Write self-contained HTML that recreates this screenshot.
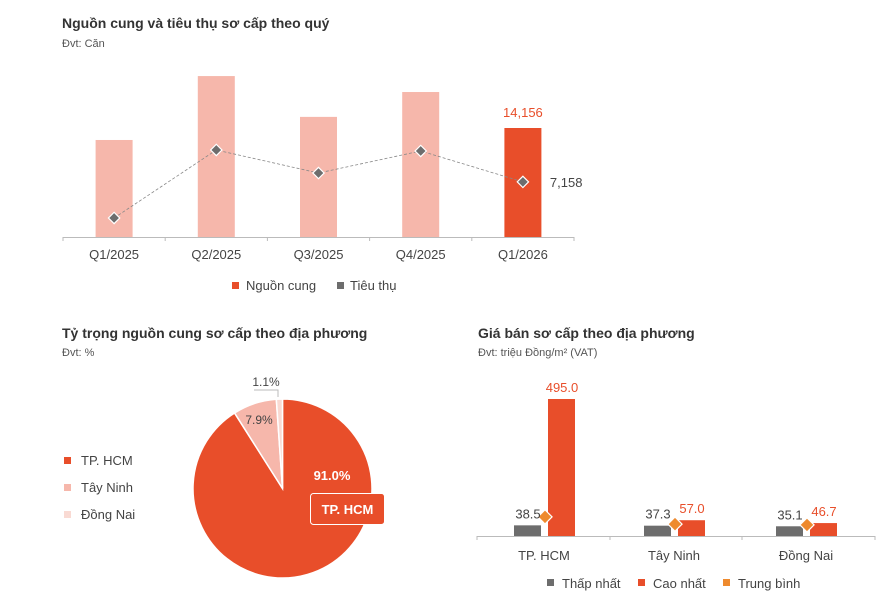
<!DOCTYPE html>
<html><head><meta charset="utf-8"><style>
body{margin:0;background:#fff;width:888px;height:603px;overflow:hidden;font-family:"Liberation Sans",sans-serif;}
svg{position:absolute;left:0;top:0}
</style></head><body>
<svg width="888" height="603" id="svg" font-family="Liberation Sans, sans-serif">
<text x="62" y="28" font-size="14" font-weight="bold" fill="#333">Nguồn cung và tiêu thụ sơ cấp theo quý</text>
<text x="62" y="47" font-size="11" fill="#555">Đvt: Căn</text>
<g id="c1"></g>
<text x="62" y="338" font-size="14" font-weight="bold" fill="#333">Tỷ trọng nguồn cung sơ cấp theo địa phương</text>
<text x="62" y="356" font-size="11" fill="#555">Đvt: %</text>
<g id="c2"></g>
<text x="478" y="338" font-size="14" font-weight="bold" fill="#333">Giá bán sơ cấp theo địa phương</text>
<text x="478" y="356" font-size="11" fill="#555">Đvt: triệu Đồng/m² (VAT)</text>
<g id="c3"></g>
</svg>
<script>
const quarters=["Q1/2025","Q2/2025","Q3/2025","Q4/2025","Q1/2026"];
const supply=[12600,20900,15600,18830,14156];
const sales=[2470,11300,8310,11170,7158];
const regions=["TP. HCM","Tây Ninh","Đồng Nai"];
const share=[91.0,7.9,1.1];
const shareLabels=["91.0%","7.9%","1.1%"];
const minPrice=[38.5,37.3,35.1];
const maxPrice=[495.0,57.0,46.7];
const avgPrice=[69,43,40];
const RED="#E84E2A",PINK="#F6B7AB",LIGHT="#F9DAD3",GRAY="#6d6d6d",ORANGE="#EE8A2E";
const NS="http://www.w3.org/2000/svg";
function mk(parent,tag,attrs,text){const e=document.createElementNS(NS,tag);for(const k in attrs)e.setAttribute(k,attrs[k]);if(text!==undefined)e.textContent=text;parent.appendChild(e);return e;}
// chart 1
const c1=document.getElementById('c1');
const base1=237,x0=63,cw=102.2,sc1=109/14156;
const y1=v=>base1-v*sc1, cx1=i=>x0+cw*(i+0.5);
quarters.forEach((q,i)=>{
  const last=i===quarters.length-1;
  const b=mk(c1,'rect',{x:cx1(i)-18.5,y:y1(supply[i]),width:37,height:supply[i]*sc1,fill:last?RED:PINK});
  
  
  const t=mk(c1,'text',{x:cx1(i),y:259,'font-size':13,fill:'#444','text-anchor':'middle'},q);
  
  
});
mk(c1,'line',{x1:x0,y1:237.5,x2:x0+cw*5,y2:237.5,stroke:'#bbb'});
for(let i=0;i<=5;i++)mk(c1,'line',{x1:x0+cw*i,y1:237,x2:x0+cw*i,y2:241,stroke:'#bbb'});
mk(c1,'polyline',{points:sales.map((v,i)=>cx1(i)+','+y1(v)).join(' '),fill:'none',stroke:'#888','stroke-dasharray':'3,2','stroke-width':0.8});
sales.forEach((v,i)=>{
  const d=mk(c1,'rect',{x:cx1(i)-4,y:y1(v)-4,width:8,height:8,fill:GRAY,stroke:'#fff','stroke-width':1.2,transform:`rotate(45 ${cx1(i)} ${y1(v)})`});
  
  
});
const L=quarters.length-1;
const sl=mk(c1,'text',{x:cx1(L),y:y1(supply[L])-11,'font-size':13,fill:RED,'text-anchor':'middle'},supply[L].toLocaleString('en-US'));


const tl=mk(c1,'text',{x:cx1(L)+27,y:y1(sales[L])+5,'font-size':13,fill:'#444'},sales[L].toLocaleString('en-US'));


const lg1=mk(c1,'g',{});


mk(lg1,'rect',{x:232,y:282,width:7,height:7,fill:RED});
mk(lg1,'text',{x:246,y:290,'font-size':13,fill:'#444'},'Nguồn cung');
mk(lg1,'rect',{x:337,y:282,width:7,height:7,fill:GRAY});
mk(lg1,'text',{x:350,y:290,'font-size':13,fill:'#444'},'Tiêu thụ');
// chart 2 pie
const c2=document.getElementById('c2');
const pcx=282.5,pcy=488.5,r=89.5,cols=[RED,PINK,LIGHT];
let a=0;const tot=share.reduce((s,v)=>s+v,0);
share.forEach((v,i)=>{
  const a0=a,a1=a+v/tot*2*Math.PI;a=a1;
  const p=t=>[pcx+r*Math.sin(t),pcy-r*Math.cos(t)];
  const [sx,sy]=p(a0),[ex,ey]=p(a1);
  const s=mk(c2,'path',{d:`M${pcx},${pcy}L${sx},${sy}A${r},${r} 0 ${a1-a0>Math.PI?1:0} 1 ${ex},${ey}Z`,fill:cols[i],stroke:'#fff','stroke-width':1.5});
  
  
});
const pl0=mk(c2,'text',{x:332,y:480,'font-size':13,'font-weight':'bold',fill:'#fff','text-anchor':'middle'},shareLabels[0]);


const cb=mk(c2,'g',{});


mk(cb,'rect',{x:310.5,y:493.5,width:74,height:31,rx:3,fill:RED,stroke:'#fff','stroke-width':1});
mk(cb,'text',{x:347.5,y:514,'font-size':13,'font-weight':'bold',fill:'#fff','text-anchor':'middle'},'TP. HCM');
const pl1=mk(c2,'text',{x:259,y:424,'font-size':12,fill:'#444','text-anchor':'middle'},shareLabels[1]);


mk(c2,'polyline',{points:'254,390 278,390 278,397',fill:'none',stroke:'#bbb'});
const pl2=mk(c2,'text',{x:266,y:386,'font-size':12,fill:'#444','text-anchor':'middle'},shareLabels[2]);


regions.forEach((n,i)=>{
  const g=mk(c2,'g',{});
  
  
  mk(g,'rect',{x:64,y:457+i*27,width:7,height:7,fill:cols[i]});
  mk(g,'text',{x:81,y:465+i*27,'font-size':13,fill:'#444'},n);
});
// chart 3
const c3=document.getElementById('c3');
const base3=536,sc3=137/495,gx=[547,677,809];
const y3=v=>base3-v*sc3;
mk(c3,'line',{x1:477,y1:536.5,x2:875,y2:536.5,stroke:'#bbb'});
[477,610,742,875].forEach(x=>mk(c3,'line',{x1:x,y1:536,x2:x,y2:540,stroke:'#bbb'}));
regions.forEach((n,i)=>{
  const g=mk(c3,'rect',{x:gx[i]-33,y:y3(minPrice[i]),width:27,height:minPrice[i]*sc3,fill:GRAY});
  
  
  const rr=mk(c3,'rect',{x:gx[i]+1,y:y3(maxPrice[i]),width:27,height:maxPrice[i]*sc3,fill:RED});
  
  
  const ay=y3(avgPrice[i]),ax=gx[i]-2;
  const d=mk(c3,'rect',{x:ax-5,y:ay-5,width:10,height:10,fill:ORANGE,stroke:'#fff','stroke-width':1.2,transform:`rotate(45 ${ax} ${ay})`});
  
  
  const t1=mk(c3,'text',{x:gx[i]-19,y:y3(minPrice[i])-7,'font-size':13,fill:'#444','text-anchor':'middle'},minPrice[i].toFixed(1));
  
  
  const t2=mk(c3,'text',{x:gx[i]+15,y:y3(maxPrice[i])-7,'font-size':13,fill:RED,'text-anchor':'middle'},maxPrice[i].toFixed(1));
  
  
  const xl=mk(c3,'text',{x:gx[i]-3,y:560,'font-size':13,fill:'#444','text-anchor':'middle'},n);
  
  
});
const lg3=mk(c3,'g',{});


[["Thấp nhất",GRAY,547],["Cao nhất",RED,638],["Trung bình",ORANGE,723]].forEach(([t,c,x])=>{
  mk(lg3,'rect',{x:x,y:579,width:7,height:7,fill:c});
  mk(lg3,'text',{x:x+15,y:588,'font-size':13,fill:'#444'},t);
});
</script>
</body></html>
